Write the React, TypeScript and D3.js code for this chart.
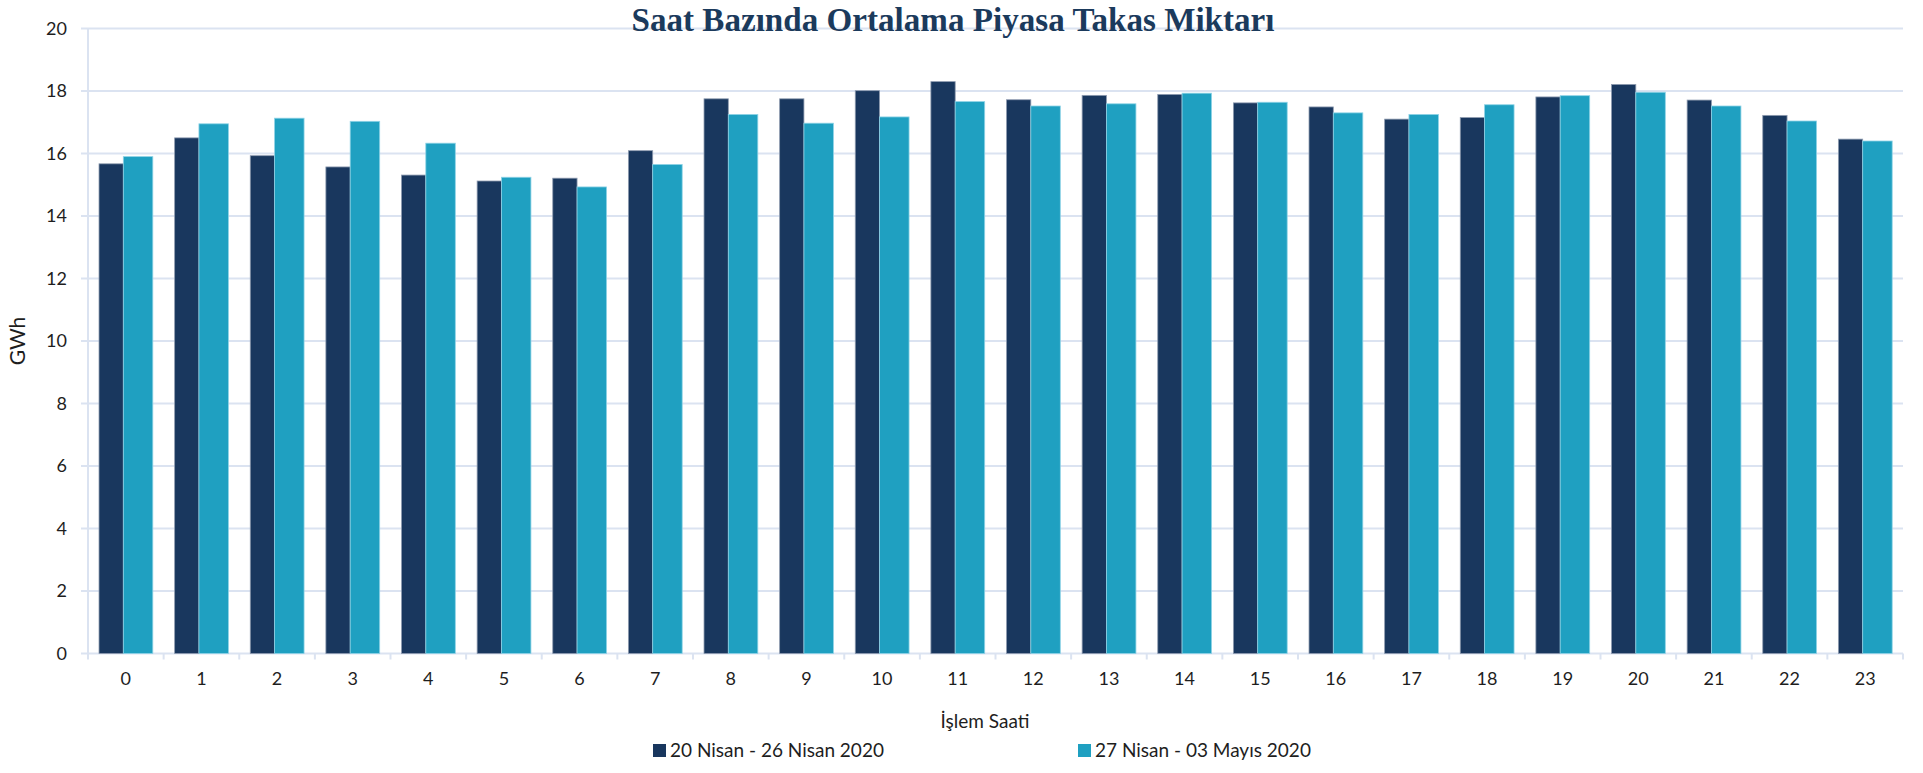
import React from "react";
import * as d3 from "d3";

const hours: string[] = Array.from({ length: 24 }, (_, i) => String(i));
const seriesNames: string[] = ["20 Nisan - 26 Nisan 2020", "27 Nisan - 03 Mayıs 2020"];
const week1: number[] = [15.67, 16.5, 15.93, 15.57, 15.31, 15.12, 15.21, 16.09, 17.75, 17.75, 18.01, 18.3, 17.72, 17.86, 17.89, 17.62, 17.49, 17.1, 17.15, 17.81, 18.21, 17.71, 17.22, 16.46];
const week2: number[] = [15.9, 16.95, 17.13, 17.03, 16.33, 15.24, 14.93, 15.65, 17.25, 16.97, 17.17, 17.66, 17.52, 17.59, 17.93, 17.64, 17.3, 17.25, 17.56, 17.85, 17.96, 17.52, 17.04, 16.4];
const yTicks: number[] = [0, 2, 4, 6, 8, 10, 12, 14, 16, 18, 20];
const title = "Saat Bazında Ortalama Piyasa Takas Miktarı";
const xTitle = "İşlem Saati";
const yTitle = "GWh";

const W = 1923;
const H = 773;
const left = 88;
const right = 1903;
const top = 28.5;
const bottom = 653.5;
const colors = ["#19375e", "#1fa0c1"];
const strokes = ["#8e9bb0", "#8fd3e6"];
const gridColor = "#dbe3f1";
const font = "Lato, 'Open Sans', 'Liberation Sans', sans-serif";

export default function App() {
  const x = d3.scaleBand<string>().domain(hours).range([left, right]).paddingInner(0).paddingOuter(0);
  const y = d3.scaleLinear().domain([0, 20]).range([bottom, top]);
  const step = x.step();
  const barOffsets = [-26.8, -2.5];
  const barWidths = [24.3, 29.5];
  const series = [week1, week2];

  return (
    <svg width={W} height={H} style={{ position: "absolute", left: 0, top: 0, background: "#fff" }} fontFamily={font}>
      <rect x={0} y={0} width={W} height={H} fill="#fff" />
      {yTicks.map((t) => (
        <g key={"g" + t}>
          <line x1={left - 7} x2={right} y1={y(t)} y2={y(t)} stroke={gridColor} strokeWidth={2} />
          <text x={67} y={y(t)} dy="0.35em" textAnchor="end" fontSize={18} fill="#1e1e1e">{t}</text>
        </g>
      ))}
      <line x1={left} x2={left} y1={top} y2={bottom} stroke={gridColor} strokeWidth={2} />
      {hours.map((h) => (
        <line key={"t" + h} x1={x(h)!} x2={x(h)!} y1={bottom} y2={bottom + 6} stroke={gridColor} strokeWidth={2} />
      ))}
      <line x1={right} x2={right} y1={bottom} y2={bottom + 6} stroke={gridColor} strokeWidth={2} />
      {series.map((vals, s) => (
        <g key={"s" + s}>
          {hours.map((h, i) => {
            const cx = x(h)! + step / 2;
            return (
              <rect
                key={h}
                x={cx + barOffsets[s]}
                y={y(vals[i])}
                width={barWidths[s]}
                height={y(0) - y(vals[i])}
                fill={colors[s]}
                stroke={strokes[s]}
                strokeWidth={0.8}
              />
            );
          })}
        </g>
      ))}
      {hours.map((h) => (
        <text key={"xl" + h} x={x(h)! + step / 2} y={685} textAnchor="middle" fontSize={18} fill="#1e1e1e">{h}</text>
      ))}
      <text x={985} y={728} textAnchor="middle" fontSize={19} fill="#1e1e1e">{xTitle}</text>
      <text transform={`translate(25,${y(10)}) rotate(-90)`} textAnchor="middle" fontSize={21} fill="#1e1e1e">{yTitle}</text>
      <text x={953} y={31} textAnchor="middle" fontSize={33} fontWeight="bold" fill="#1b3a5c" fontFamily="'Liberation Serif', 'DejaVu Serif', serif" textLength={643} lengthAdjust="spacingAndGlyphs">{title}</text>
      {seriesNames.map((n, s) => {
        const lx = [653, 1078][s];
        return (
          <g key={"lg" + s}>
            <rect x={lx} y={744} width={13} height={13} fill={colors[s]} />
            <text x={lx + 17} y={757} fontSize={19} fill="#1e1e1e">{n}</text>
          </g>
        );
      })}
    </svg>
  );
}
